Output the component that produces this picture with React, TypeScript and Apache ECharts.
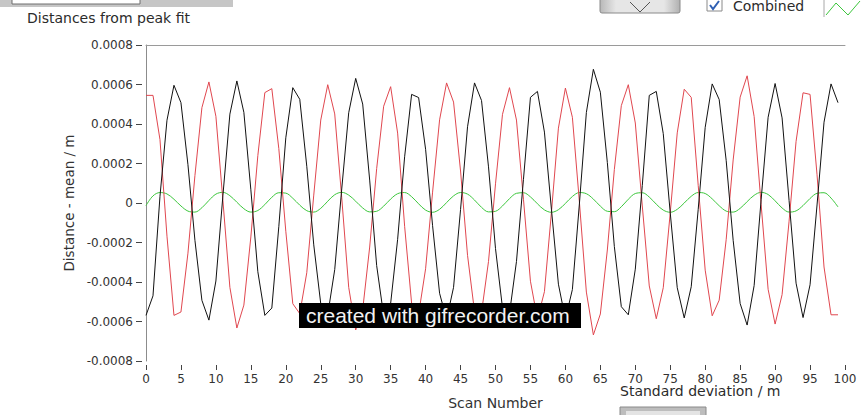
import React, { useEffect, useRef } from "react";
import * as echarts from "echarts";

const FONT = '"DejaVu Sans", Verdana, sans-serif';

// Scan numbers 0..99 (x positions of the samples)
const scanNumbers: number[] = Array.from({ length: 100 }, (_, i) => i);

// Distance - mean, in micrometres (converted to metres when plotted)
const peakBlackUm: number[] = [
  -569, -470, 34, 419, 596, 508, 194, -189, -493, -593,
  -395, 36, 450, 618, 459, 67, -348, -569, -532, -120,
  330, 584, 525, 186, -212, -510, -566, -337, 71, 457,
  631, 501, 116, -317, -570, -508, -184, 234, 550, 534,
  272, -115, -457, -590, -427, -33, 386, 608, 519, 183,
  -231, -531, -560, -296, 120, 535, 565, 359, -31, -411,
  -588, -438, -5, 458, 677, 561, 205, -220, -525, -566,
  -335, 89, 545, 565, 351, -51, -429, -582, -424, -32,
  383, 603, 524, 216, -189, -509, -618, -418, 16, 434,
  605, 431, 12, -406, -580, -414, -10, 409, 603, 508,
];

const peakRedUm: number[] = [
  545, 545, 321, -168, -569, -552, -254, 139, 483, 613,
  439, 14, -427, -633, -517, -172, 240, 559, 579, 276,
  -143, -510, -560, -353, 40, 420, 599, 451, 27, -427,
  -643, -540, -223, 174, 490, 589, 354, -118, -508, -563,
  -333, 55, 421, 608, 511, 162, -265, -550, -555, -296,
  97, 449, 584, 420, 19, -396, -588, -449, -49, 379,
  582, 434, 6, -451, -668, -562, -238, 169, 493, 599,
  405, -15, -420, -586, -429, -49, 355, 576, 535, 89,
  -340, -571, -492, -186, 218, 536, 644, 438, -7, -437,
  -613, -464, -92, 312, 558, 550, 143, -324, -566, -566,
];

const combinedUm: number[] = [
  -13, 36, 53, 46, 19, -15, -41, -46, -24, 13,
  45, 54, 37, 4, -29, -46, -38, -8, 29, 52,
  50, 24, -11, -39, -46, -27, 9, 42, 54, 40,
  9, -25, -45, -42, -16, 20, 47, 53, 32, -4,
  -36, -47, -32, 2, 36, 53, 45, 15, -22, -45,
  -42, -15, 22, 49, 52, 31, -4, -35, -47, -34,
  -2, 33, 53, 47, 20, -16, -42, -44, -19, 19,
  48, 52, 30, -6, -36, -47, -32, 0, 34, 53,
  48, 21, -14, -41, -46, -27, 7, 39, 54, 43,
  11, -25, -46, -40, -13, 23, 49, 52, 25, -20,
];

const chartTitle = "Distances from peak fit";
const xAxisName = "Scan Number";
const yAxisName = "Distance - mean / m";
const legendLabel = "Combined";
const bottomLabel = "Standard deviation / m";
const watermark = "created with gifrecorder.com";

export default function App() {
  const ref = useRef<HTMLDivElement>(null);

  useEffect(() => {
    if (!ref.current) return;
    const chart = echarts.init(ref.current, null, { renderer: "svg" });
    const toPairs = (arr: number[]) => arr.map((v, i) => [scanNumbers[i], v * 1e-6]);

    const lineSeries = (name: string, arr: number[], color: string, smooth: number | boolean) => ({
      name,
      type: "line",
      xAxisIndex: 0,
      yAxisIndex: 0,
      data: toPairs(arr),
      showSymbol: false,
      symbol: "none",
      smooth,
      lineStyle: { width: 1, color },
      itemStyle: { color },
      emphasis: { disabled: true },
    });

    chart.setOption({
      animation: false,
      backgroundColor: "#ffffff",
      grid: { left: 146, right: 18, top: 45, bottom: 52, containLabel: false },
      xAxis: [
        {
          type: "value",
          min: 0,
          max: 100,
          interval: 5,
          position: "bottom",
          offset: 4,
          axisLine: { show: false, onZero: false },
          axisTick: { show: true, length: 5, lineStyle: { color: "#444" } },
          axisLabel: { margin: 8, fontSize: 12, color: "#333", fontFamily: FONT },
          splitLine: { show: false },
          name: xAxisName,
          nameLocation: "middle",
          nameGap: 31,
          nameTextStyle: { fontSize: 14, color: "#333", fontFamily: FONT },
        },
        {
          type: "value",
          min: 0,
          max: 100,
          position: "top",
          axisLine: { show: true, onZero: false, lineStyle: { color: "#9a9a9a" } },
          axisTick: { show: false },
          axisLabel: { show: false },
          splitLine: { show: false },
        },
      ],
      yAxis: [
        {
          type: "value",
          min: -0.0008,
          max: 0.0008,
          interval: 0.0002,
          position: "left",
          offset: 4,
          axisLine: { show: false, onZero: false },
          axisTick: { show: true, length: 6, lineStyle: { color: "#444" } },
          axisLabel: {
            margin: 9,
            fontSize: 12,
            color: "#333",
            fontFamily: FONT,
            formatter: (v: number) => (Math.abs(v) < 1e-10 ? "0" : v.toFixed(4)),
          },
          splitLine: { show: false },
          name: yAxisName,
          nameLocation: "middle",
          nameRotate: 90,
          nameGap: 64,
          nameTextStyle: { fontSize: 13.5, color: "#333", fontFamily: FONT },
        },
        {
          type: "value",
          min: -0.0008,
          max: 0.0008,
          position: "left",
          offset: 0,
          axisLine: { show: true, onZero: false, lineStyle: { color: "#8c8c8c" } },
          axisTick: { show: false },
          axisLabel: { show: false },
          splitLine: { show: false },
        },
      ],
      series: [
        lineSeries("Combined", combinedUm, "#3cc63c", 0.35),
        lineSeries("Peak (red)", peakRedUm, "#e0474f", false),
        lineSeries("Peak (black)", peakBlackUm, "#111111", false),
      ],
      graphic: [
        // top-left control remnant
        { type: "rect", shape: { x: 0, y: 0, width: 233, height: 7 }, style: { fill: "#c6c6c6" }, z: 10 },
        { type: "rect", shape: { x: 12, y: -1, width: 128, height: 5 }, style: { fill: "#ffffff", stroke: "#6e6e6e", lineWidth: 1 }, z: 11 },
        {
          type: "text", x: 27, y: 18, z: 10,
          style: { text: chartTitle, font: `14px ${FONT}`, fill: "#2b2b2b", verticalAlign: "middle" },
        },
        // button at top right
        {
          type: "rect", shape: { x: 600, y: -3, width: 80, height: 16, r: 2 }, z: 10,
          style: {
            fill: new echarts.graphic.LinearGradient(0, 0, 1, 0, [
              { offset: 0, color: "#b8b8b8" },
              { offset: 0.2, color: "#e6e6e6" },
              { offset: 0.8, color: "#e6e6e6" },
              { offset: 1, color: "#b0b0b0" },
            ]),
            stroke: "#8a8a8a", lineWidth: 1,
          },
        },
        { type: "polyline", shape: { points: [[630, 2], [640, 12], [650, 2]] }, style: { stroke: "#555", fill: "none", lineWidth: 1 }, z: 11 },
        // checkbox
        { type: "rect", shape: { x: 707, y: -1, width: 15, height: 12 }, style: { fill: "#ffffff", stroke: "#8a8a8a", lineWidth: 1 }, z: 10 },
        { type: "polyline", shape: { points: [[710, 5], [713, 9], [719, 1]] }, style: { stroke: "#2f5fb3", fill: "none", lineWidth: 2 }, z: 11 },
        {
          type: "text", x: 733, y: 6, z: 10,
          style: { text: legendLabel, font: `14px ${FONT}`, fill: "#2b2b2b", verticalAlign: "middle" },
        },
        { type: "line", shape: { x1: 824, y1: 0, x2: 824, y2: 17 }, style: { stroke: "#a8a8a8", lineWidth: 1 }, z: 10 },
        { type: "polyline", shape: { points: [[826, 15], [836, 3], [848, 15], [860, 1]] }, style: { stroke: "#3cc63c", fill: "none", lineWidth: 1 }, z: 10 },
        // bottom right label and control
        {
          type: "text", x: 620, y: 391, z: 10,
          style: { text: bottomLabel, font: `14px ${FONT}`, fill: "#2b2b2b", verticalAlign: "middle" },
        },
        { type: "rect", shape: { x: 620, y: 407, width: 86, height: 10 }, style: { fill: "#bdbdbd", stroke: "#8a8a8a", lineWidth: 1 }, z: 10 },
        { type: "rect", shape: { x: 626, y: 411, width: 74, height: 6 }, style: { fill: "#e4e4e4" }, z: 11 },
        // recorder watermark
        { type: "rect", shape: { x: 299, y: 303, width: 282, height: 25 }, style: { fill: "#000000" }, z: 20 },
        {
          type: "text", x: 306, y: 315.5, z: 21,
          style: { text: watermark, font: `21px "Liberation Sans", Arial, sans-serif`, fill: "#f2f2f2", verticalAlign: "middle" },
        },
      ],
    });

    return () => chart.dispose();
  }, []);

  return (
    <div
      ref={ref}
      style={{ position: "absolute", left: 0, top: 0, width: 863, height: 415, background: "#ffffff" }}
    />
  );
}
